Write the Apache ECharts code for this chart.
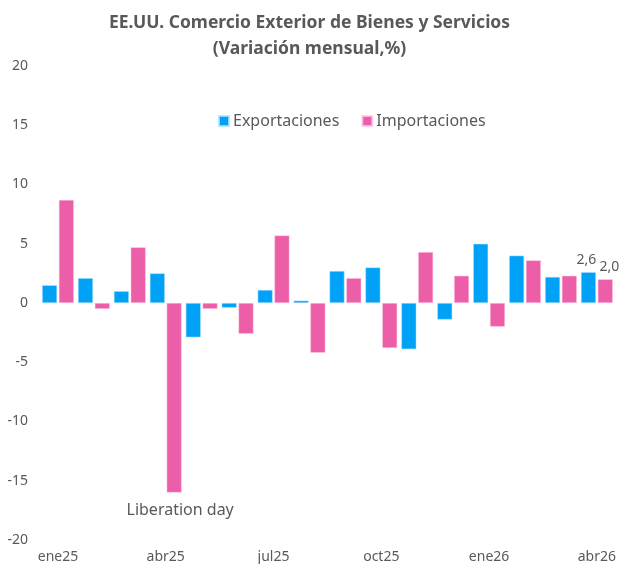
<!DOCTYPE html>
<html><head><meta charset="utf-8">
<script src="https://cdn.jsdelivr.net/npm/echarts@6/dist/echarts.min.js"></script>
<style>html,body{margin:0;padding:0;background:#fff;}#c{width:619px;height:564px;}</style>
</head><body><div id="c"></div>
<script>
const categories = ['ene25','feb25','mar25','abr25','may25','jun25','jul25','ago25','sep25','oct25','nov25','dic25','ene26','feb26','mar26','abr26'];
const exportaciones = [1.5, 2.1, 1.0, 2.5, -2.9, -0.4, 1.1, 0.2, 2.7, 3.0, -3.9, -1.4, 5.0, 4.0, 2.2, 2.6];
const importaciones = [8.7, -0.5, 4.7, -16.0, -0.5, -2.6, 5.7, -4.2, 2.1, -3.8, 4.3, 2.3, -2.0, 3.6, 2.3, 2.0];
const yTicks = [-20, -15, -10, -5, 0, 5, 10, 15, 20];
const annotationText = 'Liberation day';

const FONT = '"Noto Sans", "Open Sans", sans-serif';
const GREY = '#595959';
const chart = echarts.init(document.getElementById('c'));
const lastIdx = categories.length - 1;
const lbl = (arr, offX) => arr.map((v, i) => i === lastIdx ? {
  value: v,
  label: {show: true, position: 'top', offset: [offX, 0], formatter: p => p.value.toFixed(1).replace('.', ','),
    color: GREY, fontFamily: FONT, fontSize: 14}
} : v);

chart.setOption({
  animation: false,
  title: {
    text: 'EE.UU. Comercio Exterior de Bienes y Servicios\n(Variación mensual,%)',
    left: 'center', top: 5,
    textStyle: {fontFamily: FONT, fontWeight: 'bold', fontSize: 17.5, color: GREY, lineHeight: 26}
  },
  legend: {
    top: 108, left: 213, itemWidth: 10, itemHeight: 10, itemGap: 22,
    icon: 'rect',
    textStyle: {fontFamily: FONT, fontSize: 16, color: GREY, padding: [0, 0, 0, -1]}
  },
  grid: {left: 40, right: 4, top: 66, bottom: 24, containLabel: false},
  xAxis: {
    type: 'category', data: categories,
    axisLine: {show: false}, axisTick: {show: false},
    axisLabel: {interval: 2, fontFamily: FONT, fontSize: 14, color: GREY, margin: 10}
  },
  yAxis: {
    type: 'value', min: -20, max: 20, interval: 5,
    splitLine: {show: false}, axisLine: {show: false}, axisTick: {show: false},
    axisLabel: {fontFamily: FONT, fontSize: 14, color: GREY, margin: 12,
      formatter: v => yTicks.includes(v) ? String(v) : ''}
  },
  series: [
    {name: 'Exportaciones', type: 'bar', data: lbl(exportaciones, -2), barWidth: 15, barGap: '12%',
      itemStyle: {color: '#00A2F7', borderColor: 'rgba(180,225,255,0.8)', borderWidth: 0.6}},
    {name: 'Importaciones', type: 'bar', data: lbl(importaciones, 4), barWidth: 15,
      itemStyle: {color: '#EC5EA8', borderColor: 'rgba(255,200,230,0.8)', borderWidth: 0.6},
      markPoint: {
        symbol: 'rect', symbolSize: 1, itemStyle: {color: 'transparent'},
        data: [{coord: ['abr25', -16], label: {show: true, formatter: annotationText, position: 'bottom', offset: [6, 4],
          fontFamily: FONT, fontSize: 16, color: GREY}}]
      }}
  ]
});
</script></body></html>
